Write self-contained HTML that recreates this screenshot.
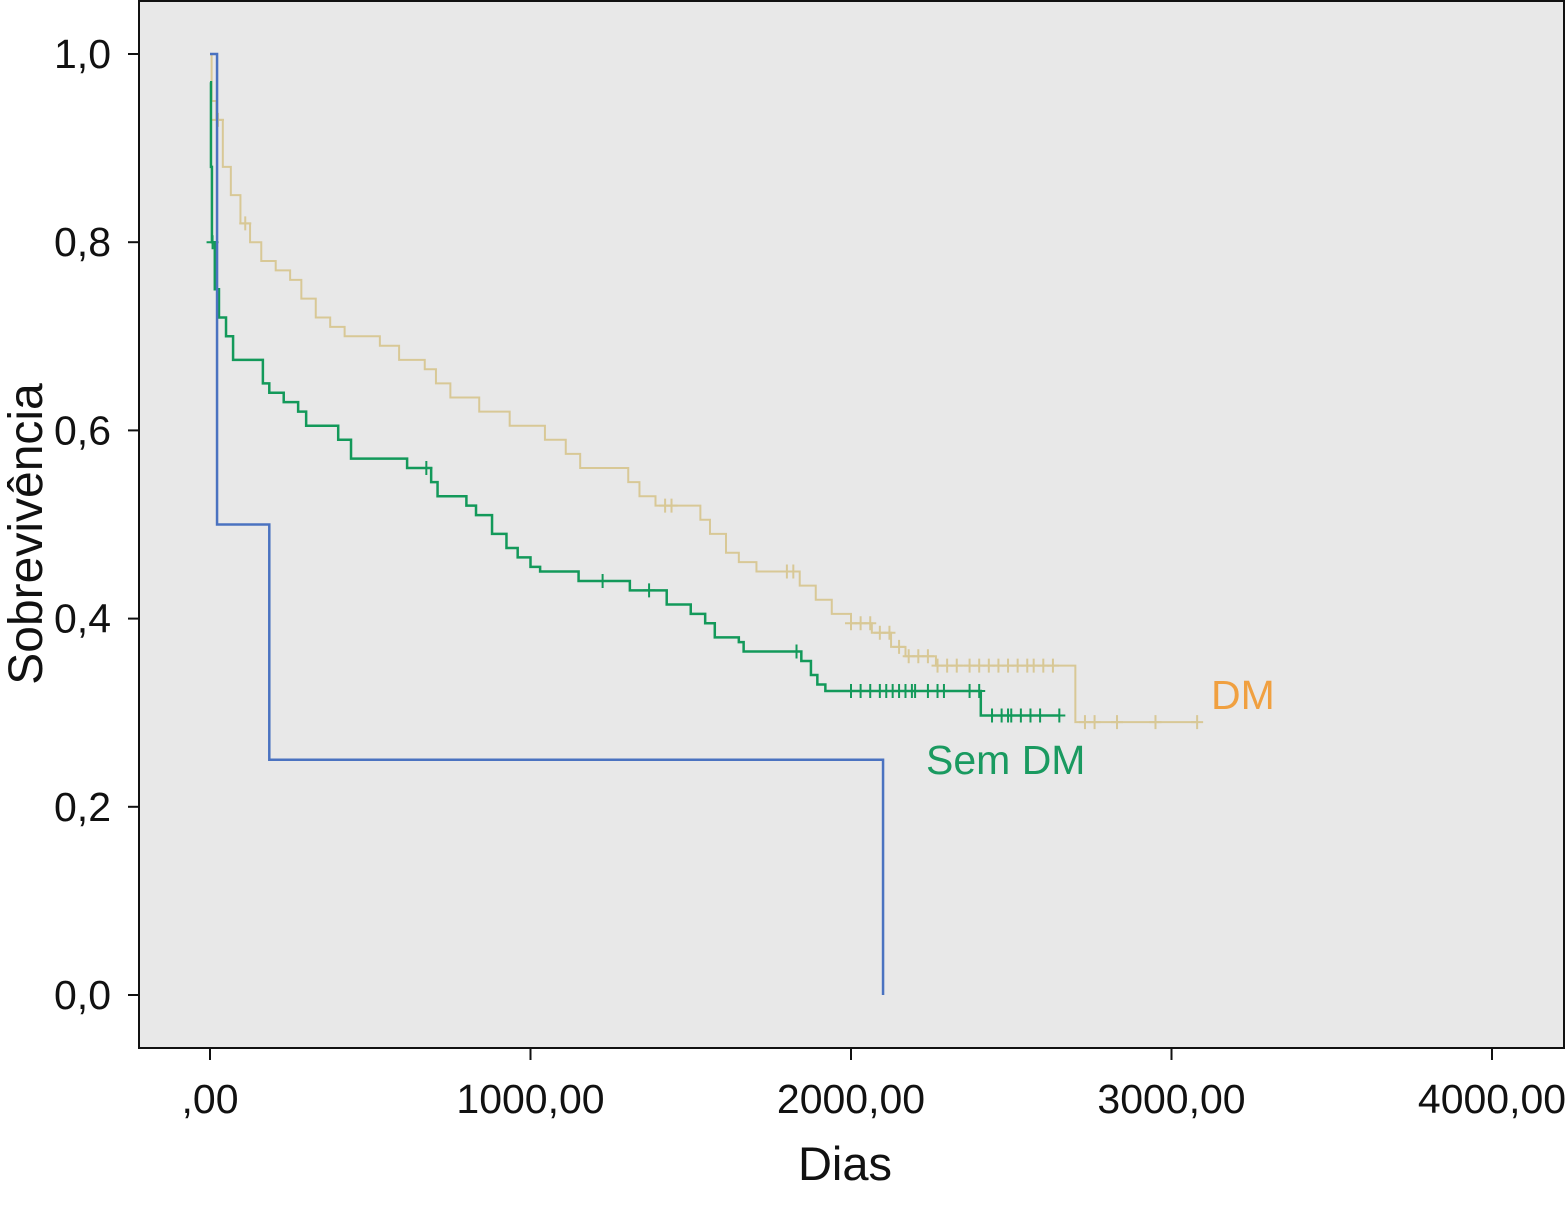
<!DOCTYPE html>
<html><head><meta charset="utf-8"><style>
body{margin:0;background:#fff;}
svg text{font-family:"Liberation Sans",Arial,sans-serif;fill:#111;}
</style></head><body>
<svg id="c" width="1567" height="1204" viewBox="0 0 1567 1204">
<rect x="139" y="1" width="1425" height="1047" fill="#e8e8e8" stroke="#111" stroke-width="2"/>
<g id="axes"></g>
<g id="series"></g>
<text x="845" y="1180" font-size="47" text-anchor="middle">Dias</text>
<text transform="translate(42,534) rotate(-90)" font-size="48" text-anchor="middle">Sobrevivência</text>
<text x="1211" y="709" font-size="41" style="fill:#f0a040">DM</text>
<text x="926" y="774" font-size="41" style="fill:#1a9a60">Sem DM</text>
</svg>
<script>
const xTicks=[0,1000,2000,3000,4000];
const xTickLabels=[",00","1000,00","2000,00","3000,00","4000,00"];
const yTicks=[0,0.2,0.4,0.6,0.8,1.0];
const yTickLabels=["0,0","0,2","0,4","0,6","0,8","1,0"];
const blueDays=[0,22,185,2100];
const blueSurv=[1.0,0.5,0.25,0];
const blueEnd=2100;
const greenDays=[0,3,6,15,28,50,72,165,185,230,275,300,400,440,615,690,710,800,830,880,925,960,1000,1030,1150,1310,1425,1500,1545,1575,1650,1665,1845,1875,1895,1920,2405];
const greenSurv=[0.97,0.88,0.8,0.75,0.72,0.7,0.675,0.65,0.64,0.63,0.62,0.605,0.59,0.57,0.56,0.545,0.53,0.52,0.51,0.49,0.475,0.465,0.455,0.45,0.44,0.43,0.415,0.405,0.395,0.38,0.375,0.365,0.355,0.34,0.33,0.323,0.297];
const greenEnd=2650;
const greenCensor=[8,675,1225,1370,1830,2000,2030,2060,2090,2110,2130,2150,2170,2190,2200,2240,2270,2290,2370,2400,2440,2470,2490,2500,2530,2560,2590,2650];
const tanDays=[0,5,20,40,65,95,125,160,205,250,285,330,375,420,530,590,670,705,750,840,935,1045,1110,1155,1305,1340,1390,1530,1560,1610,1650,1705,1840,1890,1940,2000,2065,2125,2170,2265,2700];
const tanSurv=[1.0,0.95,0.93,0.88,0.85,0.82,0.80,0.78,0.77,0.76,0.74,0.72,0.71,0.70,0.69,0.675,0.665,0.65,0.635,0.62,0.605,0.59,0.575,0.56,0.545,0.53,0.52,0.505,0.49,0.47,0.46,0.45,0.435,0.42,0.405,0.395,0.385,0.37,0.36,0.35,0.29];
const tanEnd=3080;
const tanCensor=[25,110,1420,1440,1800,1820,2000,2030,2060,2090,2120,2150,2180,2210,2240,2270,2300,2330,2370,2400,2430,2460,2490,2520,2550,2570,2600,2630,2730,2760,2830,2950,3080];

const X=d=>210+d*0.3205;
const Y=s=>995-s*941;
const NS="http://www.w3.org/2000/svg";
const axes=document.getElementById('axes'),ser=document.getElementById('series');
function mk(tag,attrs,parent){const e=document.createElementNS(NS,tag);for(const k in attrs)e.setAttribute(k,attrs[k]);parent.appendChild(e);return e;}
xTicks.forEach((t,i)=>{
  const l=mk('line',{x1:X(t),x2:X(t),y1:1048,y2:1060,stroke:'#111','stroke-width':2},axes);
  
  
  const tx=mk('text',{x:X(t),y:1113,'font-size':41,'text-anchor':'middle'},axes);
  tx.textContent=xTickLabels[i];
  
  
});
yTicks.forEach((t,i)=>{
  const l=mk('line',{x1:128,x2:139,y1:Y(t),y2:Y(t),stroke:'#111','stroke-width':2},axes);
  
  
  const tx=mk('text',{x:111,y:Y(t)+14,'font-size':41,'text-anchor':'end'},axes);
  tx.textContent=yTickLabels[i];
  
  
});
function stepPath(days,surv,end){
  let d='M'+X(days[0])+','+Y(surv[0]);
  for(let i=1;i<days.length;i++){d+=' H'+X(days[i])+' V'+Y(surv[i]);}
  d+=' H'+X(end);return d;
}
function survAt(days,surv,t){let s=surv[0];for(let i=0;i<days.length;i++){if(days[i]<=t)s=surv[i];}return s;}
function series(days,surv,end,censor,color,name,w){
  const p=mk('path',{d:stepPath(days,surv,end),fill:'none',stroke:color,'stroke-width':w},ser);
  
  
  censor.forEach(c=>{
    const x=X(c),y=Y(survAt(days,surv,c));
    const m=mk('path',{d:`M${x-6},${y} H${x+6} M${x},${y-7} V${y+7}`,stroke:color,'stroke-width':2},ser);
    
    
  });
}
series(tanDays,tanSurv,tanEnd,tanCensor,'#d8c896','dm',2);
series(greenDays,greenSurv,greenEnd,greenCensor,'#13995a','sem-dm',2.5);
series(blueDays,blueSurv,blueEnd,[],'#4a72c0','other',2.5);
</script>
</body></html>
